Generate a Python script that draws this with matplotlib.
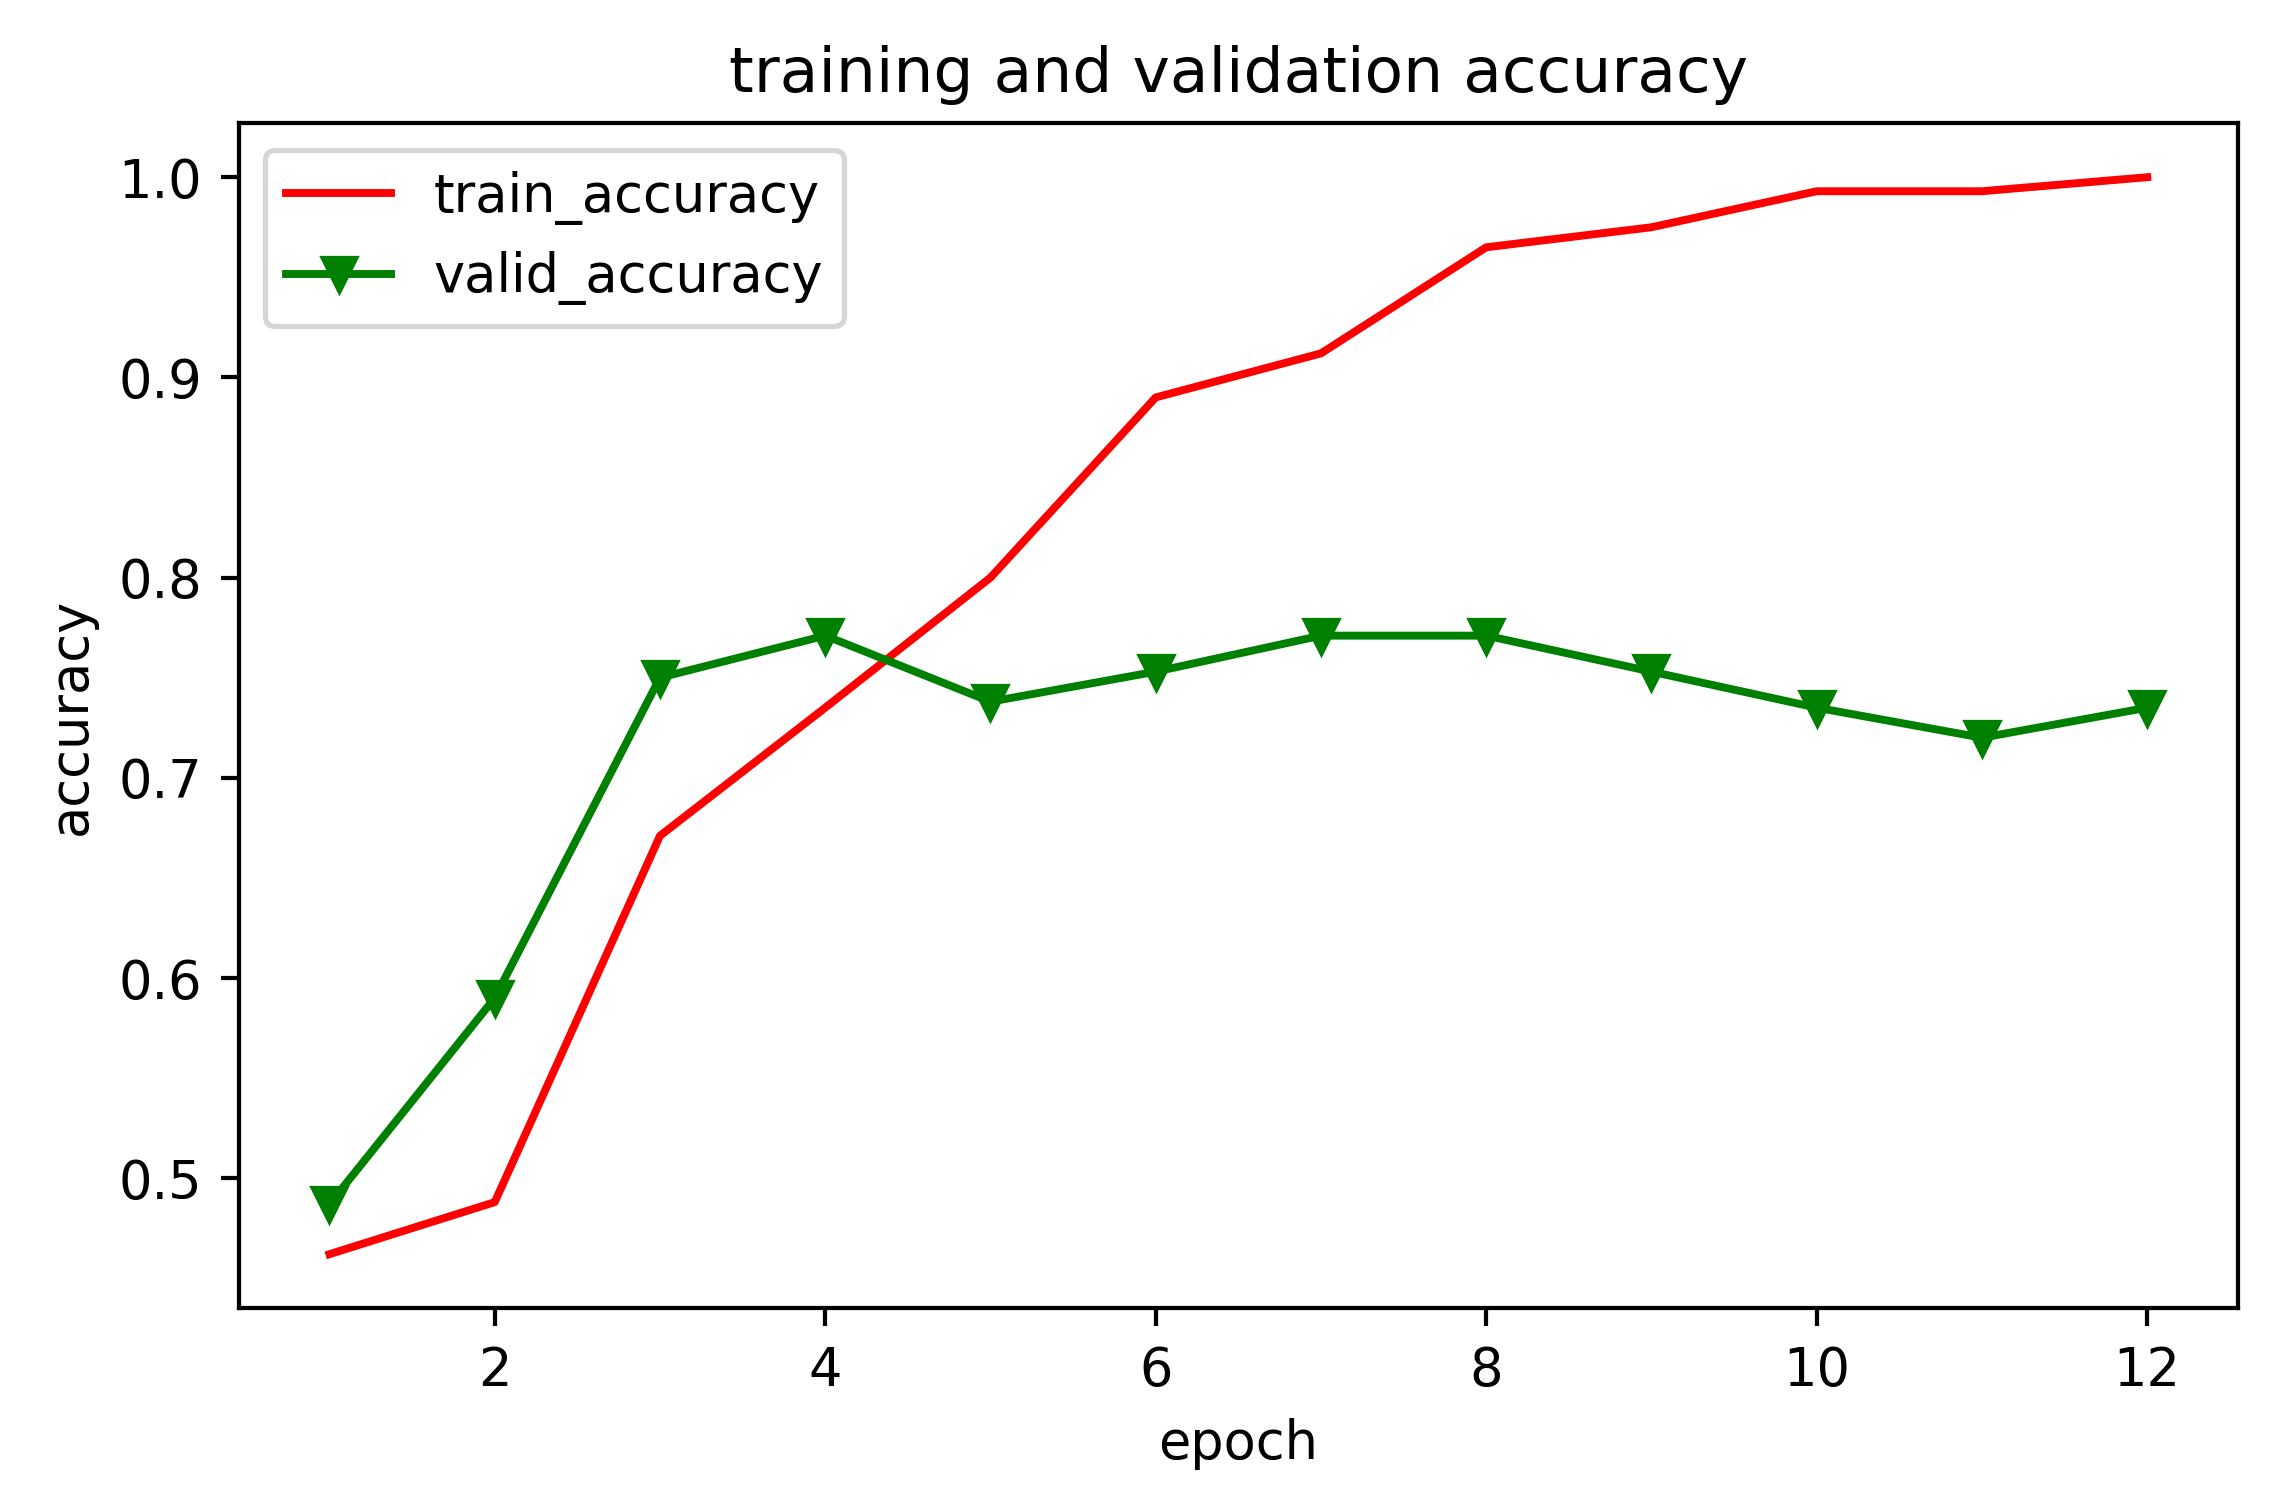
import matplotlib
matplotlib.use("Agg")
import matplotlib.pyplot as plt

epochs = list(range(1, 13))
train_accuracy = [0.462, 0.488, 0.671, 0.735, 0.80, 0.89, 0.912, 0.965, 0.975, 0.993, 0.993, 1.0]
valid_accuracy = [0.487, 0.59, 0.75, 0.771, 0.738, 0.753, 0.771, 0.771, 0.753, 0.735, 0.72, 0.735]

fig = plt.figure(figsize=(6, 3.98), dpi=378.7)
ax = fig.add_axes([0.105, 0.132, 0.88, 0.786])
ax.plot(epochs, train_accuracy, color='red', label='train_accuracy')
ax.plot(epochs, valid_accuracy, color='green', marker='v', label='valid_accuracy')
ax.set_title('training and validation accuracy')
ax.set_xlabel('epoch')
ax.set_ylabel('accuracy')
ax.legend(loc='upper left')
fig.savefig('out.png')
